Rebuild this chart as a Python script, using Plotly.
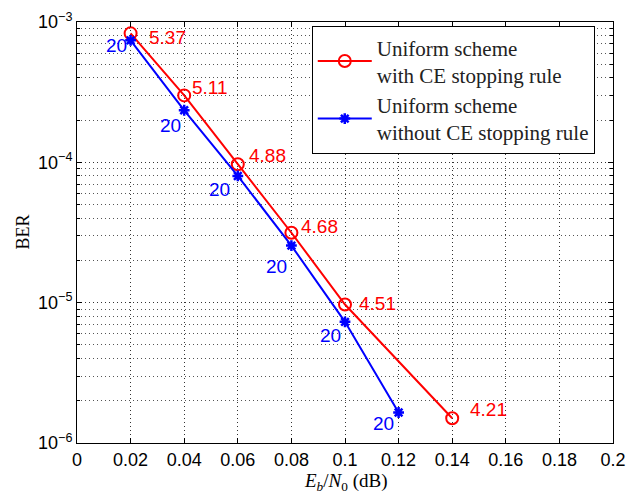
import math
import plotly.graph_objects as go

# ---- data ----
snr_red = [0.02, 0.04, 0.06, 0.08, 0.10, 0.14]
ber_red = [8.3e-4, 3.0e-4, 9.7e-5, 3.15e-5, 9.7e-6, 1.5e-6]
lbl_red = ["5.37", "5.11", "4.88", "4.68", "4.51", "4.21"]

snr_blue = [0.02, 0.04, 0.06, 0.08, 0.10, 0.12]
ber_blue = [7.4e-4, 2.35e-4, 8.0e-5, 2.55e-5, 7.3e-6, 1.65e-6]
lbl_blue = ["20", "20", "20", "20", "20", "20"]

name_red = "Uniform scheme<br>with CE stopping rule"
name_blue = "Uniform scheme<br>without CE stopping rule"

x_ticks = [0, 0.02, 0.04, 0.06, 0.08, 0.1, 0.12, 0.14, 0.16, 0.18, 0.2]
x_ticktext = ["0", "0.02", "0.04", "0.06", "0.08", "0.1", "0.12", "0.14", "0.16", "0.18", "0.2"]
y_ticks = [1e-6, 1e-5, 1e-4, 1e-3]
y_ticktext = ["10<sup>\u22126</sup>", "10<sup>\u22125</sup>", "10<sup>\u22124</sup>", "10<sup>\u22123</sup>"]

x_title = "<i>E</i><sub><i>b</i></sub>/<i>N</i><sub>0</sub> (dB)"
y_title = "BER"

# style
red_off = [(16, -4), (6, 8), (9, 9), (8, 6), (12, 1), (16, 9)]
blue_off = [(-2, -5), (-1, -15), (-6, -14), (-2, -21), (-2, -14), (-3, -11)]

minor_y = [m * 10.0 ** e for e in range(-6, -3) for m in range(2, 10)]

fig = go.Figure()
fig.add_trace(go.Scatter(
    x=snr_red, y=ber_red, mode="lines+markers", name=name_red,
    line=dict(color="#ff0000", width=2),
    marker=dict(symbol="circle-open", size=12, color="#ff0000", line=dict(width=2)),
))
fig.add_trace(go.Scatter(
    x=snr_blue, y=ber_blue, mode="lines+markers", name=name_blue,
    line=dict(color="#0000ff", width=2),
    marker=dict(symbol="asterisk-open", size=9, color="#0000ff", line=dict(width=2.5, color="#0000ff")),
))

for x, y, t, (dx, dy) in zip(snr_red, ber_red, lbl_red, red_off):
    fig.add_annotation(x=x, y=math.log10(y), text=t, showarrow=False, xanchor="left",
                       yanchor="middle", xshift=dx, yshift=dy,
                       font=dict(family="Liberation Sans, Arial", size=19, color="#ff0000"))
for x, y, t, (dx, dy) in zip(snr_blue, ber_blue, lbl_blue, blue_off):
    fig.add_annotation(x=x, y=math.log10(y), text=t, showarrow=False, xanchor="right",
                       yanchor="middle", xshift=dx, yshift=dy,
                       font=dict(family="Liberation Sans, Arial", size=19, color="#0000ff"))

fig.add_annotation(x=0.5, y=0, xref="paper", yref="paper", text=x_title, showarrow=False,
                   xanchor="center", yanchor="middle", yshift=-39,
                   font=dict(family="Liberation Serif, Times New Roman", size=19, color="black"))
fig.add_annotation(x=0, y=0.5, xref="paper", yref="paper", text=y_title, showarrow=False,
                   xanchor="center", yanchor="middle", xshift=-55, textangle=-90,
                   font=dict(family="Liberation Serif, Times New Roman", size=18, color="black"))

dotted = "1px,3px"

fig.update_xaxes(
    range=[0, 0.2], tickmode="array", tickvals=x_ticks, ticktext=x_ticktext,
    ticks="inside", ticklen=5, tickcolor="black", showline=True, linecolor="black",
    linewidth=1, mirror="ticks", zeroline=False, automargin=False,
    tickfont=dict(family="Liberation Sans, Arial", size=18, color="black"),
    showgrid=True, gridcolor="#333333", griddash=dotted, gridwidth=1,
)
fig.update_yaxes(
    type="log", range=[-6, -3], tickmode="array", tickvals=y_ticks, ticktext=y_ticktext,
    ticks="inside", ticklen=5, tickcolor="black", showline=True, linecolor="black",
    linewidth=1, mirror="ticks", zeroline=False, automargin=False,
    tickfont=dict(family="Liberation Sans, Arial", size=18, color="black"),
    minor=dict(tickmode="array", tickvals=minor_y, ticks="inside", ticklen=3, tickcolor="black",
               showgrid=True, gridcolor="#555555", griddash=dotted, gridwidth=1),
    showgrid=True, gridcolor="#333333", griddash=dotted, gridwidth=1,
)

fig.update_layout(
    width=639, height=496,
    margin=dict(l=77, r=26, t=22, b=53, autoexpand=False),
    paper_bgcolor="white", plot_bgcolor="white",
    showlegend=True,
    legend=dict(x=0.438, y=0.99, xanchor="left", yanchor="top",
                bgcolor="white", bordercolor="black", borderwidth=1,
                font=dict(family="Liberation Serif, Times New Roman", size=21, color="#222222"),
                itemwidth=54, tracegroupgap=0),
)

fig.write_html("out.html", config={"displayModeBar": False},
               post_script="document.body.style.margin='0';document.body.style.padding='0';")
